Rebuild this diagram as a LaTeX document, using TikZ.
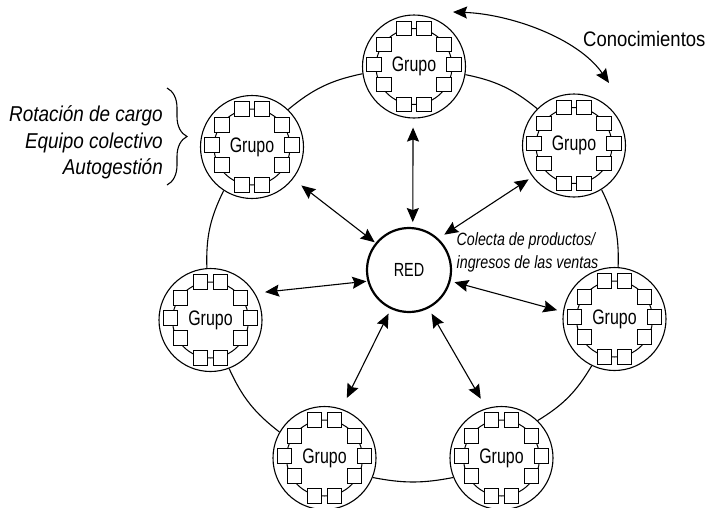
\documentclass[tikz,border=0pt]{standalone}
\usepackage{fontspec}
\setmainfont[FakeStretch=0.88]{Liberation Sans}
\newfontfamily\narrowf[FakeStretch=0.76]{Liberation Sans}
\newfontfamily\colectaf[FakeStretch=0.8]{Liberation Sans}
\usetikzlibrary{arrows.meta,decorations.pathreplacing,calc}
\tikzset{
  x=1pt,y=-1pt,
  grupocirc/.style={circle,draw,line width=1.1pt,fill=white,minimum size=103pt,inner sep=0pt,font=\narrowf\fontsize{21}{22}\selectfont},
  ring/.style={draw,line width=1.1pt},
  inner ring/.style={draw,line width=1pt},
  sq/.style={draw,line width=1.1pt,fill=white,minimum size=14.5pt,inner sep=0pt},
  redcirc/.style={circle,draw,line width=2.2pt,fill=white,minimum size=84pt,inner sep=0pt,font=\narrowf\fontsize{19}{20}\selectfont},
  arr/.style={line width=1.1pt,{Stealth[length=14pt,width=12pt,inset=2pt]}-{Stealth[length=14pt,width=12pt,inset=2pt]}},
  lab/.style={font=\fontsize{21.5}{26.5}\selectfont\itshape,align=right,inner sep=0pt},
  lab2/.style={font=\colectaf\fontsize{17.8}{23}\selectfont\itshape,align=left,inner sep=0pt},
}
\newcommand{\grupo}[3]{%
  \node[grupocirc] (#1) at (#2,#3) {Grupo};
  \draw[inner ring] (#1) circle[radius=38pt];
  \foreach \i/\dx/\dy in {1/-10/-38,2/10/-38,3/-30/-22,4/30/-22,5/-40/-2,6/40/-2,7/-30/18,8/30/18,9/-10/38,10/10/38}
    \node[sq] (#1-s\i) at ($(#1)+(\dx,\dy)$) {};
}
\begin{document}
\begin{tikzpicture}
\useasboundingbox (0,0) rectangle (710,507);
\grupo{ga}{414}{66.5}
\grupo{gb}{574}{145.5}
\grupo{gc}{614.5}{319}
\grupo{gd}{501.5}{458}
\grupo{ge}{324.5}{458}
\grupo{gf}{210.5}{320}
\grupo{gg}{252}{147}
\node[redcirc] (red) at (409,270) {RED};
\draw[ring] (ga.-9.5) to[bend left=14] (gb.135);
\draw[ring] (gb.-58) to[bend left=14] (gc.86);
\draw[ring] (gc.-116) to[bend left=14] (gd.46);
\draw[ring] (gd.-158) to[bend left=11] (ge.-22);
\draw[ring] (ge.150) to[bend left=14] (gf.-69);
\draw[ring] (gf.94) to[bend left=14] (gg.-123);
\draw[ring] (gg.46) to[bend left=14] (ga.188);
\draw[arr,shorten <=9pt,shorten >=5pt] (ga.-91) -- (red.85);
\draw[arr,shorten <=4.5pt,shorten >=7pt] (gb.-143) -- (red.47);
\draw[arr,shorten <=6pt,shorten >=4pt] (gc.172) -- (red.-15);
\draw[arr,shorten <=11pt,shorten >=6pt] (gd.107) -- (red.-63);
\draw[arr,shorten <=12pt,shorten >=5pt] (ge.71) -- (red.-115);
\draw[arr,shorten <=10pt,shorten >=1pt] (gf.31) -- (red.195);
\draw[arr,shorten <=10.5pt,shorten >=1pt] (gg.-38) -- (red.141);
\coordinate (k1) at (453,12);
\coordinate (k2) at (609,83);
\draw[arr] (k1) .. controls (510,14) and (578,38) .. (k2);
\node[font=\fontsize{21}{22}\selectfont,anchor=west,inner sep=0pt] (con) at (583,39) {Conocimientos};
\node[lab,anchor=east] (rot) at (163,142.5) {Rotación de cargo\\Equipo colectivo\\Autogestión};
\draw[line width=1.1pt,decorate,decoration={brace,amplitude=20pt}] (167,88) -- (167,185);
\node[lab2,anchor=west] (col) at (456.5,252) {Colecta de productos/\\ingresos de las ventas};
\end{tikzpicture}
\end{document}
